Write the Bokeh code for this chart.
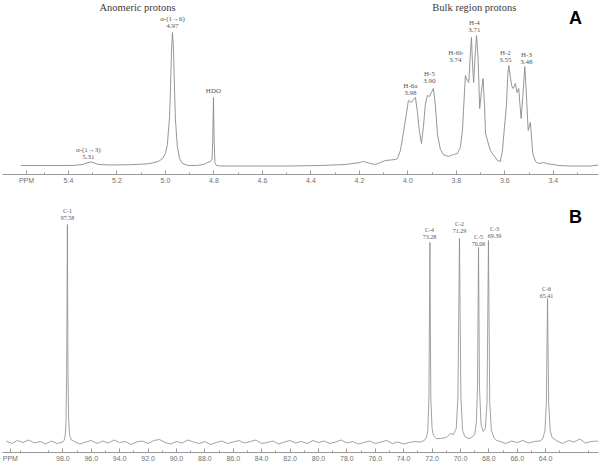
from bokeh.plotting import figure
from bokeh.layouts import column
from bokeh.models import Range1d, FixedTicker, ColumnDataSource
from bokeh.core.properties import value
from bokeh.embed import file_html
from bokeh.resources import INLINE

# ---------------- DATA ----------------
# Panel A: 1H NMR trace (ppm, relative intensity)
a_ppm = [5.596, 5.515, 5.433, 5.371, 5.342, 5.326, 5.309, 5.293, 5.276, 5.227,
         5.144, 5.082, 5.054, 5.029, 5.012, 5.000, 4.992, 4.983, 4.979, 4.975,
         4.971, 4.967, 4.963, 4.959, 4.951, 4.942, 4.930, 4.905, 4.872, 4.843,
         4.827, 4.815, 4.808, 4.805, 4.802, 4.799, 4.796, 4.790, 4.773, 4.691,
         4.485, 4.361, 4.258, 4.196, 4.188, 4.175, 4.155, 4.134, 4.113, 4.093,
         4.072, 4.052, 4.043, 4.031, 4.019, 4.006, 3.998, 3.986, 3.977, 3.969,
         3.961, 3.953, 3.944, 3.936, 3.928, 3.920, 3.911, 3.903, 3.895, 3.887,
         3.878, 3.866, 3.854, 3.833, 3.812, 3.796, 3.784, 3.775, 3.771, 3.763,
         3.755, 3.749, 3.743, 3.738, 3.733, 3.729, 3.723, 3.717, 3.711, 3.704,
         3.697, 3.690, 3.684, 3.680, 3.660, 3.631, 3.619, 3.610, 3.602, 3.594,
         3.588, 3.584, 3.578, 3.571, 3.566, 3.557, 3.550, 3.543, 3.538, 3.533,
         3.526, 3.518, 3.512, 3.504, 3.495, 3.485, 3.474, 3.460, 3.440, 3.420,
         3.400, 3.380, 3.330, 3.289, 3.247, 3.214]
a_int = [1, 1, 1, 1.2, 2, 3.5, 4.5, 3.5, 2, 1.5,
         1.8, 2.5, 3.5, 5, 8, 13, 22, 50, 80, 115,
         134, 118, 82, 48, 20, 8, 3, 1, 1, 2,
         4, 5, 7, 25, 69, 25, 4, 1, 0.5, 0.5,
         0.5, 1, 2, 4, 5, 4.5, 3, 2, 4, 6,
         6.5, 7, 8, 16, 33, 53, 66, 64, 67, 69,
         55, 36, 23, 40, 62, 71, 70, 74, 78, 62,
         32, 17, 12, 10, 12, 13, 19, 36, 55, 91,
         86, 84, 110, 129, 100, 84, 110, 131, 110, 58,
         75, 88, 60, 33, 16, 6, 5, 16, 39, 60,
         92, 101, 90, 80, 78, 83, 74, 78, 62, 48,
         70, 100, 75, 36, 44, 13, 5, 3, 4, 2.5,
         2, 1, 0.5, 0.5, 0.5, 1.5]
a_tick_vals = [5.4, 5.2, 5.0, 4.8, 4.6, 4.4, 4.2, 4.0, 3.8, 3.6, 3.4]
a_tick_labels = ["5.4", "5.2", "5.0", "4.8", "4.6", "4.4", "4.2", "4.0", "3.8", "3.6", "3.4"]
a_minor_vals = [5.5, 5.3, 5.1, 4.9, 4.7, 4.5, 4.3, 4.1, 3.9, 3.7, 3.5, 3.3]
a_peak_names = ["α-(1→3)", "α-(1→6)", "HDO", "H-6a", "H-5", "H-6b", "H-4", "H-2", "H-3"]
a_peak_shifts = ["5.31", "4.97", "", "3.98", "3.90", "3.74", "3.71", "3.55", "3.48"]
a_regions = ["Anomeric protons", "Bulk region protons"]

# Panel B: 13C NMR trace (ppm, relative intensity)
b_ppm = [102.0, 101.6, 101.2, 100.8, 100.4, 100.0, 99.6, 99.2, 98.8, 98.4, 98.0,
         97.92, 97.84, 97.78, 97.73, 97.68, 97.64, 97.59, 97.52, 97.42,
         97.2, 96.8, 96.4, 96.0, 95.6, 95.2, 94.8, 94.4, 94.0, 93.6,
         93.2, 92.8, 92.4, 92.0, 91.6, 91.2, 90.8, 90.4, 90.0, 89.6,
         89.2, 88.8, 88.4, 88.0, 87.6, 87.2, 86.8, 86.4, 86.0, 85.6,
         85.2, 84.8, 84.4, 84.0, 83.6, 83.2, 82.8, 82.4, 82.0, 81.6,
         81.2, 80.8, 80.4, 80.0, 79.6, 79.2, 78.8, 78.4, 78.0, 77.6,
         77.2, 76.8, 76.4, 76.0, 75.6, 75.2, 74.8, 74.4, 74.0, 73.6,
         73.2, 72.8,
         72.55, 72.4, 72.3, 72.22, 72.15, 72.09, 72.0, 71.9, 71.7, 71.4,
         71.0, 70.7, 70.5, 70.3, 70.18, 70.07, 69.97, 69.85, 69.7, 69.45,
         69.2, 69.0, 68.88, 68.8, 68.73, 68.66, 68.55, 68.4, 68.25, 68.13,
         68.03, 67.94, 67.82, 67.65, 67.45,
         67.2, 66.8, 66.4, 66.0, 65.6, 65.2, 64.8, 64.4,
         64.2, 64.05, 63.95, 63.87, 63.79, 63.68, 63.55,
         63.2, 62.8, 62.4, 62.0, 61.6, 61.2, 60.8, 60.4, 60.28]
b_int = [1.5, -1, 2, 0, 2.5, -0.5, 1, -1.5, 1.5, -1, 0.5,
         2, 6, 20, 70, 218, 70, 22, 7, 3,
         1, -1.5, 0.5, 2, -1, 1.5, -0.5, 2.5, 0, 1,
         -2, 0.5, 1.5, -1, 2, 3, 0, -1.5, 1, -0.5,
         2.5, 0.5, -1, 1, -2, 0, 1.5, -1, 0.5, 2,
         -0.5, 1, 2.5, -1, 0, 1.5, -1.5, 0.5, 2, -0.5,
         1, -1, 2, 0, 1.5, -1, 0.5, 2.5, -0.5, 1,
         -1.5, 0, 1.5, -1, 0.5, 2, -1, 0.5, -1.5, 0,
         1, 0.5,
         2, 5, 12, 45, 200, 45, 14, 7, 4, 4,
         5, 9, 8, 14, 45, 204, 45, 12, 6, 4,
         5, 8, 20, 55, 195, 55, 18, 11, 14, 40,
         202, 40, 12, 5, 2,
         1, -1, 1.5, 0, 2, -0.5, 1, 1.5,
         4, 12, 40, 144, 40, 12, 5,
         1.5, -1, 2, 0.5, 3.5, -0.5, 1, 1.5, 0.5]
b_tick_vals = [98, 96, 94, 92, 90, 88, 86, 84, 82, 80, 78, 76, 74, 72, 70, 68, 66, 64]
b_tick_labels = ["98.0", "96.0", "94.0", "92.0", "90.0", "88.0", "86.0", "84.0", "82.0",
                 "80.0", "78.0", "76.0", "74.0", "72.0", "70.0", "68.0", "66.0", "64.0"]
b_minor_vals = [101, 99, 97, 95, 93, 91, 89, 87, 85, 83, 81, 79, 77, 75, 73, 71, 69, 67, 65, 63, 61]
b_peak_names = ["C-1", "C-4", "C-2", "C-5", "C-3", "C-6"]
b_peak_shifts = ["97.58", "73.28", "71.29", "70.06", "69.39", "65.41"]

assert len(a_ppm) == len(a_int)
assert len(b_ppm) == len(b_int)

# ---------------- LAYOUT / STYLE ----------------
W = 600
A_H, B_H = 190, 275
LINE_COLOR = "#8a8a8a"
AXIS_COLOR = "#9a9a9a"
SERIF = value("Liberation Serif")
SANS = value("Liberation Sans")

# label anchors (data coords)
a_label_x = [5.318, 4.971, 4.802, 3.990, 3.911, 3.804, 3.726, 3.598, 3.511]
a_label_y = [17, 148, 76, 81, 93, 114, 144, 114, 112]
a_region_x = [5.115, 3.726]
a_region_y = [159, 159]
b_label_x = [97.68, 72.18, 70.07, 68.73, 67.61, 63.94]
b_label_y = [232, 213, 219, 206, 214, 154]
A_PPM_TICK = 5.573
B_PPM_TICK = 101.7


def style_axis(p, ticks, labels, minor, ppm_tick):
    ax = p.xaxis[0]
    ax.ticker = FixedTicker(ticks=[ppm_tick] + ticks, minor_ticks=minor)
    ov = {ppm_tick: "PPM"}
    for v, l in zip(ticks, labels):
        ov[v] = l
    ax.major_label_overrides = ov
    ax.axis_line_color = AXIS_COLOR
    ax.axis_line_width = 1
    ax.major_tick_line_color = AXIS_COLOR
    ax.minor_tick_line_color = AXIS_COLOR
    ax.major_tick_in = 4
    ax.major_tick_out = 0
    ax.minor_tick_in = 2
    ax.minor_tick_out = 0
    ax.major_label_standoff = 2
    ax.major_label_text_font = "Liberation Sans"
    ax.major_label_text_font_size = "7px"
    ax.major_label_text_color = "#707070"


def base_fig(h, xr, yr, bottom):
    p = figure(width=W, height=h, output_backend="svg", toolbar_location=None,
               x_range=xr, y_range=yr, y_axis_location=None,
               min_border_left=2, min_border_right=2, min_border_top=0,
               min_border_bottom=bottom, outline_line_color=None,
               background_fill_color="white", border_fill_color="white")
    p.grid.visible = False
    return p


# ---------------- PANEL A ----------------
pA = base_fig(A_H, Range1d(5.672, 3.214), Range1d(-8, 166), 16)
pA.line(a_ppm, a_int, line_color=LINE_COLOR, line_width=0.9)
style_axis(pA, a_tick_vals, a_tick_labels, a_minor_vals, A_PPM_TICK)

srcA = ColumnDataSource(dict(x=a_label_x, y=a_label_y, name=a_peak_names,
                             y2=[v - 7.5 for v in a_label_y], shift=a_peak_shifts))
pA.text(x="x", y="y", text="name", source=srcA, text_font=SERIF, text_font_size="7px",
        text_align="center", text_baseline="middle", text_color="#555555")
pA.text(x="x", y="y2", text="shift", source=srcA, text_font=SERIF, text_font_size="7px",
        text_align="center", text_baseline="middle", text_color="#555555")
pA.text(x=a_region_x, y=a_region_y, text=a_regions, text_font=SERIF,
        text_font_size="10.5px", text_align="center", text_baseline="middle",
        text_color="#3a3a3a")
pA.text(x=[3.309], y=[149], text=["A"], text_font=SANS, text_font_style="bold",
        text_font_size="18px", text_align="center", text_baseline="middle",
        text_color="black")

# ---------------- PANEL B ----------------
pB = base_fig(B_H, Range1d(102.25, 60.28), Range1d(-10, 252), 13)
pB.line(b_ppm, b_int, line_color=LINE_COLOR, line_width=0.8)
style_axis(pB, b_tick_vals, b_tick_labels, b_minor_vals, B_PPM_TICK)

srcB = ColumnDataSource(dict(x=b_label_x, y=b_label_y, name=b_peak_names,
                             y2=[v - 7 for v in b_label_y], shift=b_peak_shifts))
pB.text(x="x", y="y", text="name", source=srcB, text_font=SERIF, text_font_size="6px",
        text_align="center", text_baseline="middle", text_color="#555555")
pB.text(x="x", y="y2", text="shift", source=srcB, text_font=SERIF, text_font_size="6px",
        text_align="center", text_baseline="middle", text_color="#555555")
pB.text(x=[61.9], y=[226], text=["B"], text_font=SANS, text_font_style="bold",
        text_font_size="18px", text_align="center", text_baseline="middle",
        text_color="black")

layout = column(pA, pB, spacing=0)
open("out.html", "w").write(file_html(layout, INLINE))
